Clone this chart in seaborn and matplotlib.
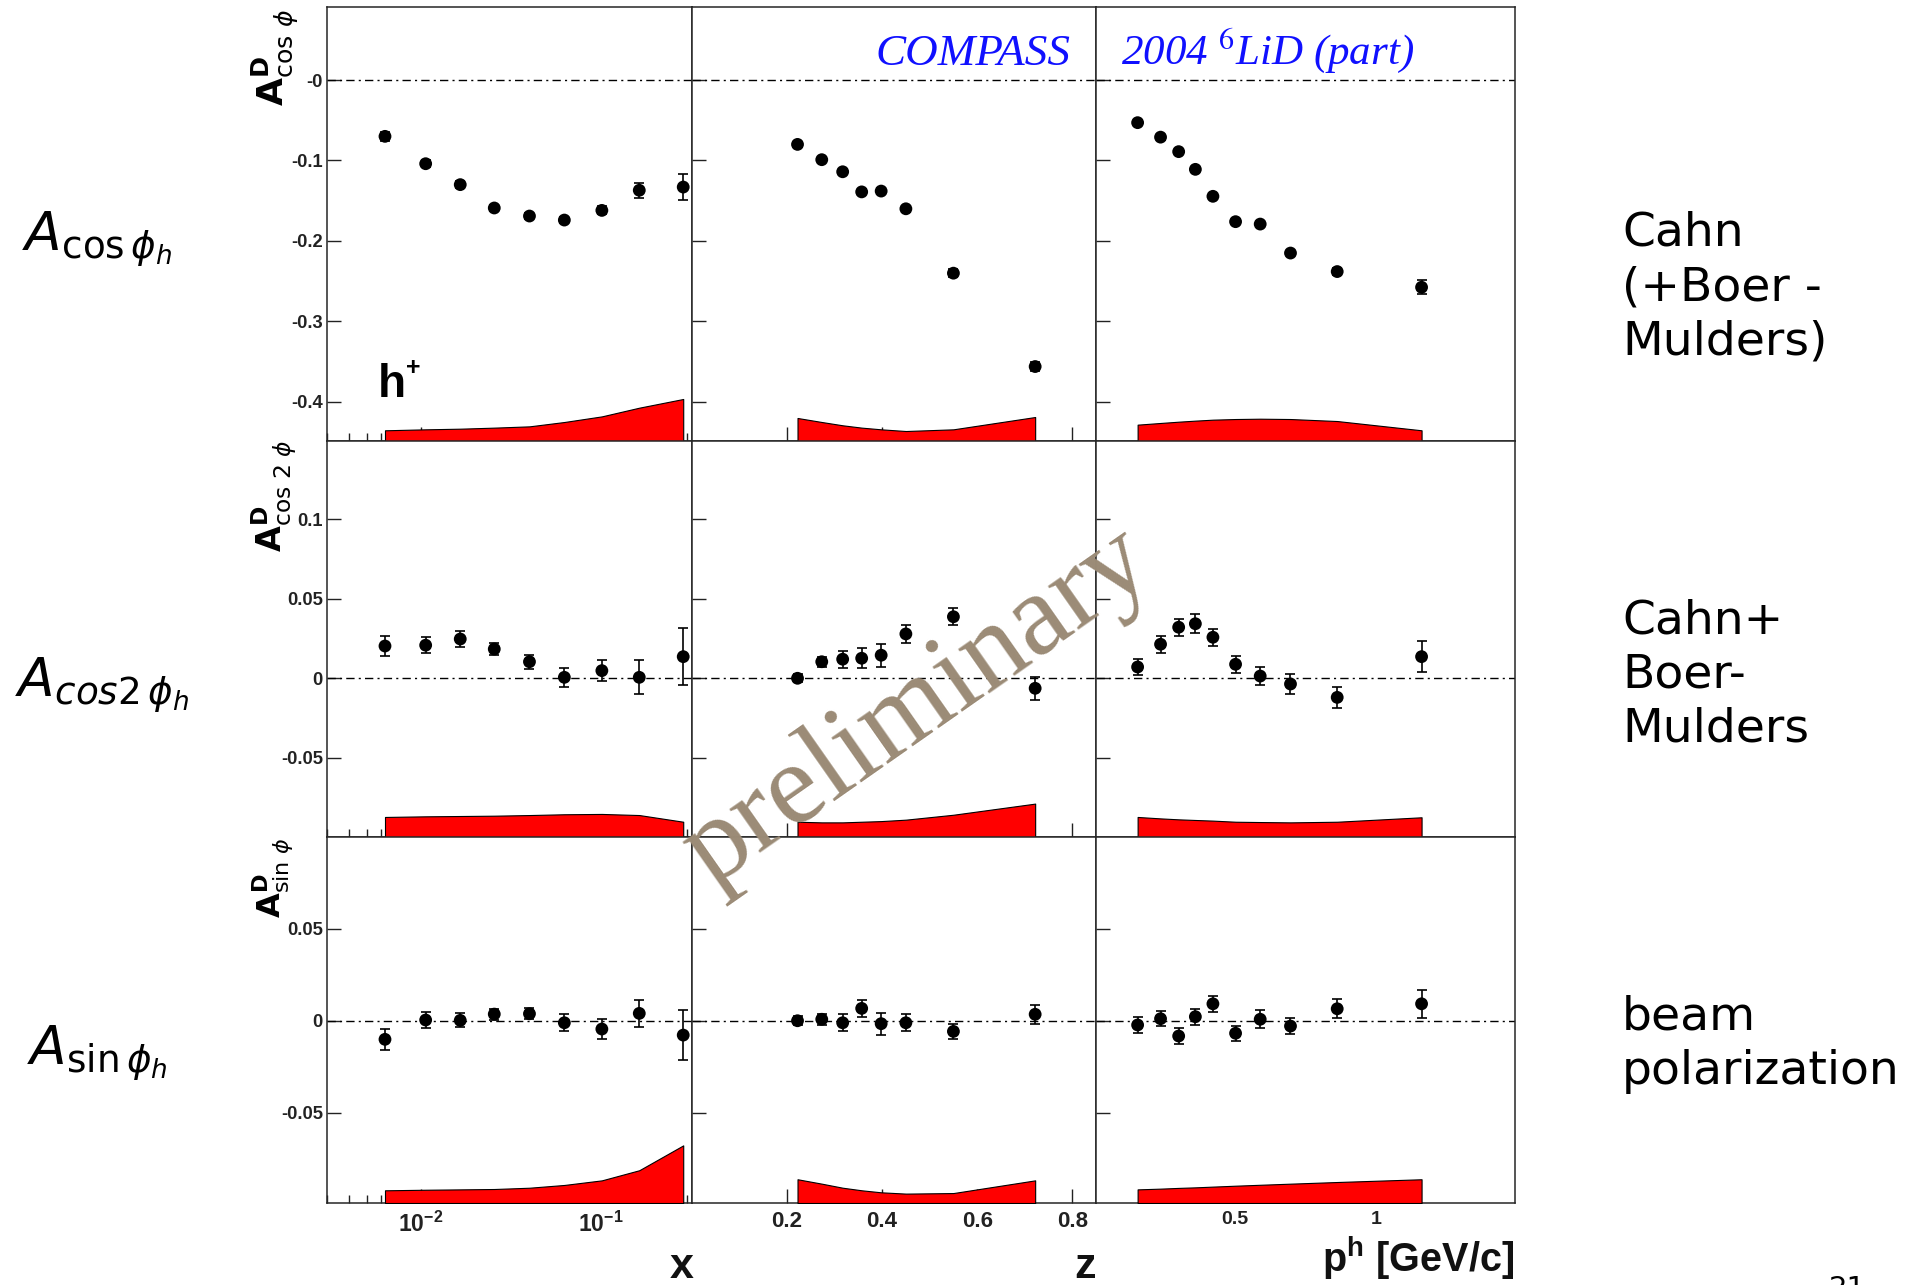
import numpy as np
import pandas as pd
import matplotlib
matplotlib.use("Agg")
import matplotlib.pyplot as plt
import matplotlib.transforms as mtransforms
import seaborn as sns
from matplotlib.ticker import FixedLocator, FixedFormatter, LogLocator, NullFormatter, NullLocator

# ---------------- data ----------------
x_bins = [0.0063, 0.0106, 0.0165, 0.0255, 0.040, 0.0625, 0.101, 0.163, 0.286]
z_bins = [0.222, 0.273, 0.317, 0.357, 0.398, 0.450, 0.550, 0.722]
pt_bins = [0.157, 0.238, 0.302, 0.361, 0.423, 0.503, 0.590, 0.697, 0.862, 1.160]

# A_cos(phi)
cos_x = [-0.070, -0.104, -0.130, -0.159, -0.169, -0.174, -0.162, -0.137, -0.133]
cos_x_err = [0.006, 0.004, 0.004, 0.004, 0.004, 0.004, 0.005, 0.009, 0.016]
cos_x_sys = [0.0133, 0.0145, 0.0153, 0.0166, 0.0182, 0.0236, 0.0306, 0.0414, 0.0522]
cos_z = [-0.080, -0.099, -0.114, -0.139, -0.138, -0.160, -0.240, -0.356]
cos_z_err = [0.003, 0.003, 0.003, 0.003, 0.004, 0.004, 0.005, 0.006]
cos_z_sys = [0.0286, 0.0236, 0.0195, 0.0166, 0.0145, 0.0124, 0.0145, 0.0298]
cos_pt = [-0.053, -0.071, -0.089, -0.111, -0.1445, -0.176, -0.179, -0.215, -0.238, -0.2575]
cos_pt_err = [0.003, 0.003, 0.003, 0.003, 0.003, 0.003, 0.003, 0.003, 0.004, 0.0087]
cos_pt_sys = [0.0203, 0.0224, 0.024, 0.0253, 0.0265, 0.0273, 0.0277, 0.0273, 0.0248, 0.0133]

# A_cos2(phi)
cos2_x = [0.0203, 0.0208, 0.0247, 0.0184, 0.0104, 0.0006, 0.0048, 0.0006, 0.0136]
cos2_x_err = [0.0064, 0.0051, 0.0048, 0.0040, 0.0043, 0.0059, 0.0068, 0.0107, 0.0178]
cos2_x_sys = [0.0126, 0.0130, 0.0132, 0.0134, 0.0138, 0.0143, 0.0145, 0.0138, 0.0096]
cos2_z = [0.0, 0.0104, 0.012, 0.0126, 0.0145, 0.0279, 0.0387, -0.0063]
cos2_z_err = [0.0025, 0.003, 0.0053, 0.0064, 0.0072, 0.0058, 0.0052, 0.0071]
cos2_z_sys = [0.0096, 0.0092, 0.0092, 0.0096, 0.0100, 0.0109, 0.0140, 0.0210]
cos2_pt = [0.0071, 0.0214, 0.0321, 0.0343, 0.0258, 0.0088, 0.0014, -0.0036, -0.012, 0.0136]
cos2_pt_err = [0.0053, 0.0052, 0.0053, 0.0059, 0.0053, 0.0053, 0.0059, 0.0063, 0.0068, 0.0097]
cos2_pt_sys = [0.0126, 0.0117, 0.0111, 0.0107, 0.0103, 0.0096, 0.0094, 0.0092, 0.0096, 0.0124]

# A_sin(phi)
sin_x = [-0.0101, 0.0004, 0.0002, 0.0036, 0.0038, -0.0011, -0.0045, 0.0040, -0.0078]
sin_x_err = [0.0056, 0.0043, 0.0038, 0.003, 0.003, 0.0047, 0.0055, 0.0075, 0.0134]
sin_x_sys = [0.0069, 0.0072, 0.0074, 0.0076, 0.0083, 0.0098, 0.0123, 0.0178, 0.0313]
sin_z = [0.0, 0.0008, -0.0011, 0.0067, -0.0016, -0.0011, -0.0058, 0.0035]
sin_z_err = [0.0025, 0.003, 0.0045, 0.0047, 0.0059, 0.0047, 0.0042, 0.0053]
sin_z_sys = [0.0129, 0.0105, 0.0083, 0.0069, 0.0058, 0.0051, 0.0054, 0.0123]
sin_pt = [-0.0023, 0.0011, -0.0083, 0.0022, 0.0092, -0.0068, 0.0008, -0.0029, 0.0065, 0.0092]
sin_pt_err = [0.0043, 0.0042, 0.0042, 0.0043, 0.0043, 0.004, 0.005, 0.0044, 0.0051, 0.0076]
sin_pt_sys = [0.0074, 0.0078, 0.0082, 0.0085, 0.0089, 0.0094, 0.0099, 0.0105, 0.0114, 0.0129]

row_yticks = [[0, -0.1, -0.2, -0.3, -0.4], [0.1, 0.05, 0, -0.05], [0.05, 0, -0.05]]
row_yticklabels = [["-0", "-0.1", "-0.2", "-0.3", "-0.4"],
                   ["0.1", "0.05", "0", "-0.05"],
                   ["0.05", "0", "-0.05"]]
z_ticks = [0.2, 0.4, 0.6, 0.8]
z_ticklabels = ["0.2", "0.4", "0.6", "0.8"]
pt_ticks = [0.5, 1.0]
pt_ticklabels = ["0.5", "1"]
x_ticks = [0.01, 0.1]
x_ticklabels = [r"$\mathbf{10^{-2}}$", r"$\mathbf{10^{-1}}$"]

row_ylabels = [r"$\mathbf{A}^{\mathbf{D}}_{\mathrm{cos}\ \phi}$",
               r"$\mathbf{A}^{\mathbf{D}}_{\mathrm{cos\ 2}\ \phi}$",
               r"$\mathbf{A}^{\mathbf{D}}_{\mathrm{sin}\ \phi}$"]
left_labels = [r"$A_{\cos\phi_h}$", r"$A_{cos2\,\phi_h}$", r"$A_{\sin\phi_h}$"]
right_labels = ["Cahn\n(+Boer -\nMulders)", "Cahn+\nBoer-\nMulders", "beam\npolarization"]
axis_titles = ["x", "z", r"p$^{\mathbf{h}}$ [GeV/c]"]

# ---------------- style ----------------
sns.set_style("white")
plt.rcParams.update({
    "font.family": ["DejaVu Sans"],
    "mathtext.fontset": "dejavusans",
    "mathtext.rm": "Liberation Sans",
    "mathtext.bf": "Liberation Sans:bold",
    "mathtext.it": "Liberation Sans:italic",
    "axes.edgecolor": "#262626",
    "axes.linewidth": 1.1,
})

W, H = 1924, 1285
fig = plt.figure(figsize=(W / 100, H / 100), dpi=100)
fig.patch.set_facecolor("white")


def px(x, y):
    return x / W, 1 - y / H


col_px = [327, 692, 1096, 1515]
row_px = [7, 441, 837, 1203]
row_ylim = [(-0.4485, 0.0907), (-0.0998, 0.1492), (-0.0990, 0.0998)]
col_xlim = [(0.003, 0.32), (0.0, 0.85), (0.01, 1.49)]
col_x = [x_bins, z_bins, pt_bins]

values = [[cos_x, cos_z, cos_pt], [cos2_x, cos2_z, cos2_pt], [sin_x, sin_z, sin_pt]]
errors = [[cos_x_err, cos_z_err, cos_pt_err], [cos2_x_err, cos2_z_err, cos2_pt_err],
          [sin_x_err, sin_z_err, sin_pt_err]]
systs = [[cos_x_sys, cos_z_sys, cos_pt_sys], [cos2_x_sys, cos2_z_sys, cos2_pt_sys],
         [sin_x_sys, sin_z_sys, sin_pt_sys]]

for r in range(3):
    for c in range(3):
        left = col_px[c] / W
        bottom = 1 - row_px[r + 1] / H
        width = (col_px[c + 1] - col_px[c]) / W
        height = (row_px[r + 1] - row_px[r]) / H
        ax = fig.add_axes([left, bottom, width, height])
        ax.set_facecolor("white")
        if c == 0:
            ax.set_xscale("log")
        ax.set_xlim(*col_xlim[c])
        ylo, yhi = row_ylim[r]
        ax.set_ylim(ylo, yhi)

        xs = np.array(col_x[c])
        ys = np.array(values[r][c])
        es = np.array(errors[r][c])
        ss = np.array(systs[r][c])

        ax.axhline(0, color="black", lw=1.0, ls=(0, (6, 3, 1.5, 3)), zorder=1)
        ax.fill_between(xs, ylo, ylo + ss, facecolor="#ff0000", edgecolor="black",
                        linewidth=0.8, zorder=3)
        ax.errorbar(xs, ys, yerr=es, fmt="none", ecolor="black", elinewidth=1.2,
                    capsize=3.6, capthick=1.2, zorder=4)
        df = pd.DataFrame({"x": xs, "y": ys})
        sns.scatterplot(data=df, x="x", y="y", ax=ax, color="black", s=85,
                        edgecolor="none", linewidth=0, zorder=5, legend=False)
        ax.set_xlabel("")
        ax.set_ylabel("")

        # y ticks
        ax.yaxis.set_major_locator(FixedLocator(row_yticks[r]))
        if c == 0:
            ax.yaxis.set_major_formatter(FixedFormatter(row_yticklabels[r]))
        else:
            ax.yaxis.set_major_formatter(NullFormatter())
        ax.yaxis.set_minor_locator(NullLocator())

        # x ticks
        if c == 0:
            ax.xaxis.set_major_locator(FixedLocator(x_ticks))
            ax.xaxis.set_minor_locator(LogLocator(base=10, subs=np.arange(2, 10), numticks=30))
            ax.xaxis.set_major_formatter(NullFormatter())
            ax.xaxis.set_minor_formatter(NullFormatter())
        else:
            ticks = z_ticks if c == 1 else pt_ticks
            labels = z_ticklabels if c == 1 else pt_ticklabels
            ax.xaxis.set_major_locator(FixedLocator(ticks))
            ax.xaxis.set_minor_locator(NullLocator())
            if r == 2:
                ax.xaxis.set_major_formatter(FixedFormatter(labels))
            else:
                ax.xaxis.set_major_formatter(NullFormatter())

        ax.tick_params(axis="both", which="both", direction="in", top=False, right=False,
                       left=True, bottom=True, color="#222222", width=1.0)
        ax.tick_params(axis="both", which="major", length=10)
        ax.tick_params(axis="x", which="minor", length=5.8)
        ax.tick_params(axis="y", which="major", pad=3, labelsize=13.2, labelcolor="#222222")
        ax.tick_params(axis="x", which="major", pad=6,
                       labelsize=(16 if c == 1 else 14), labelcolor="#222222")
        for lab in ax.get_yticklabels() + ax.get_xticklabels():
            lab.set_fontfamily("Liberation Sans")
            lab.set_fontweight("bold")
        for sp in ax.spines.values():
            sp.set_visible(True)
            sp.set_color("#262626")
            sp.set_linewidth(1.1)

        if c == 0 and r == 2:
            trans = mtransforms.blended_transform_factory(ax.transData, ax.transAxes)
            for xv, lab in zip(x_ticks, x_ticklabels):
                t = ax.text(xv, -0.025, lab, transform=trans, ha="center", va="top",
                            fontsize=16.5, color="#222222", clip_on=False)
                t.set_math_fontfamily("custom")

# ---- panel y-axis titles (rotated, ROOT style) ----
ylabel_tops = [9, 440, 838]
ylabel_sizes = [26, 24, 23]
for r in range(3):
    fig.text(*px(250, ylabel_tops[r]), row_ylabels[r], rotation=90, ha="left", va="top",
             fontsize=ylabel_sizes[r], color="black")

# ---- h+ label ----
fig.text(*px(378, 397), "h", fontfamily="Liberation Sans", fontweight="bold",
         fontsize=33, ha="left", va="baseline", color="black")
fig.text(*px(413, 368), "+", fontfamily="Liberation Sans", fontweight="bold",
         fontsize=18, ha="center", va="center", color="black")

# ---- blue COMPASS labels ----
fig.text(*px(1070, 65), "COMPASS", fontfamily="Liberation Serif", style="italic",
         fontsize=32.5, color="#1010ff", ha="right", va="baseline")
t = fig.text(*px(1121, 64), r"2004 $^{\mathit{6}}$LiD (part)", fontfamily="Liberation Serif",
             style="italic", fontsize=31, color="#1010ff", ha="left", va="baseline")
t.set_math_fontfamily("stix")

# ---- axis titles ----
fig.text(*px(694, 1278), axis_titles[0], fontfamily="Liberation Sans", fontweight="bold",
         fontsize=31, ha="right", va="baseline", color="#111111")
fig.text(*px(1096, 1278), axis_titles[1], fontfamily="Liberation Sans", fontweight="bold",
         fontsize=31, ha="right", va="baseline", color="#111111")
t = fig.text(*px(1514, 1272), axis_titles[2], fontfamily="Liberation Sans", fontweight="bold",
             fontsize=28.5, ha="right", va="baseline", color="#111111")
t.set_math_fontfamily("custom")

# ---- left row labels ----
left_pos = [(22, 251), (15, 697), (27, 1065)]
for lab, (xx, yy) in zip(left_labels, left_pos):
    fig.text(*px(xx, yy), lab, fontsize=38.5, ha="left", va="baseline", color="black")

# ---- right row descriptions ----
right_tops = [211, 598, 995]
for lab, yy in zip(right_labels, right_tops):
    fig.text(*px(1622, yy), lab, fontsize=34, ha="left", va="top", color="black",
             linespacing=1.26)

# ---- page number (cut at bottom) ----
fig.text(*px(1829, 1275), "21", fontsize=21, ha="left", va="top", color="black")

# ---- watermark ----
fig.text(*px(918, 708), "preliminary", fontfamily="Liberation Serif", fontsize=84,
         color="#9b8b76", rotation=35, rotation_mode="anchor", ha="center", va="center")

fig.savefig("out.png", dpi=100, facecolor="white")
